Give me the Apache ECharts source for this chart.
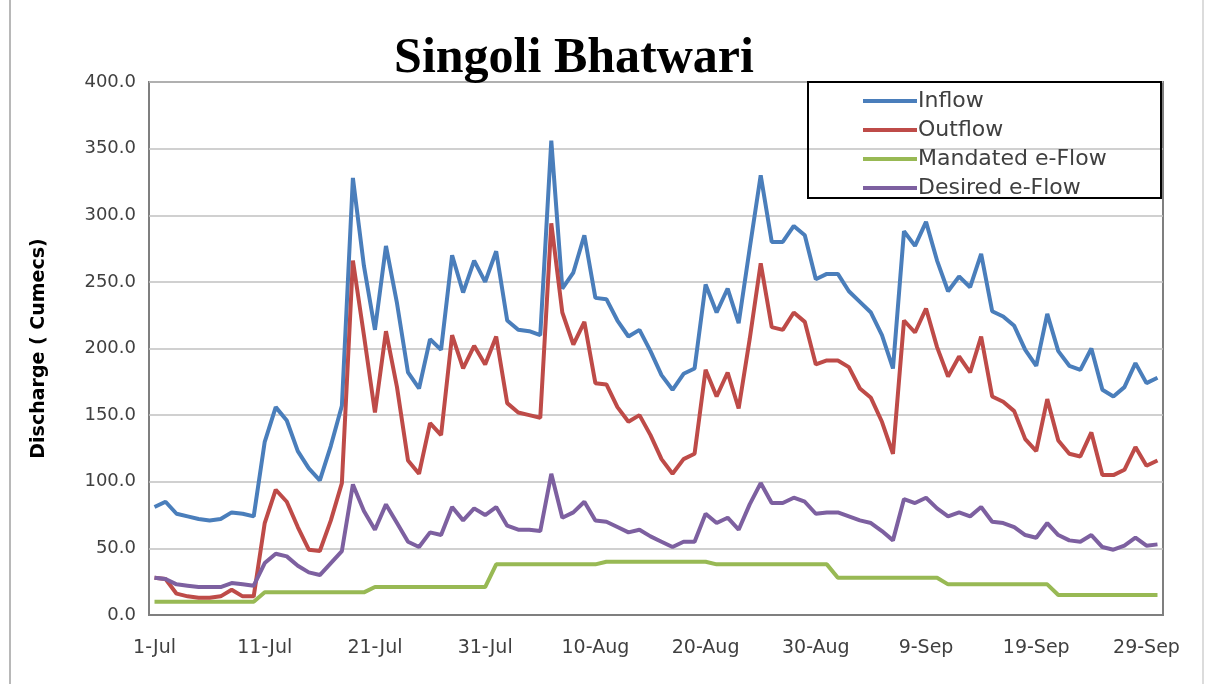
<!DOCTYPE html>
<html>
<head>
<meta charset="utf-8">
<script src="https://cdn.jsdelivr.net/npm/echarts/dist/echarts.min.js"></script>
<style>
  html, body { margin: 0; padding: 0; background: #fff; }
  #chart { width: 1213px; height: 684px; }
</style>
</head>
<body>
<div id="chart"></div>
<script>
// daily series, 1-Jul .. 30-Sep (92 days)
var months = [['Jul', 31], ['Aug', 31], ['Sep', 30]];
var days = [];
months.forEach(function (m) {
  for (var d = 1; d <= m[1]; d++) days.push(d + '-' + m[0]);
});

var inflow = [
  81, 85, 76, 74, 72, 71, 72, 77, 76, 74,
  130, 156, 146, 123, 110, 101, 127, 157, 328, 262,
  214, 277, 234, 182, 170, 207, 199, 270, 242, 266,
  250, 273, 221, 214, 213, 210, 356, 245, 257, 285,
  238, 237, 221, 209, 214, 198, 180, 169, 181, 185,
  248, 227, 245, 219, 275, 330, 280, 280, 292, 285,
  252, 256, 256, 243, 235, 227, 210, 185, 288, 277,
  295, 266, 243, 254, 246, 271, 228, 224, 217, 199,
  187, 226, 198, 187, 184, 200, 169, 164, 171, 189,
  174, 178
];
var outflow = [
  28, 27, 16, 14, 13, 13, 14, 19, 14, 14,
  69, 94, 85, 66, 49, 48, 71, 99, 266, 210,
  152, 213, 171, 116, 106, 144, 135, 210, 185, 202,
  188, 209, 159, 152, 150, 148, 294, 227, 203, 220,
  174, 173, 156, 145, 150, 135, 117, 106, 117, 121,
  184, 164, 182, 155, 207, 264, 216, 214, 227, 220,
  188, 191, 191, 186, 170, 163, 145, 121, 221, 212,
  230, 201, 179, 194, 182, 209, 164, 160, 153, 132,
  123, 162, 131, 121, 119, 137, 105, 105, 109, 126,
  112, 116
];
var mandated = [
  10, 10, 10, 10, 10, 10, 10, 10, 10, 10,
  17, 17, 17, 17, 17, 17, 17, 17, 17, 17,
  21, 21, 21, 21, 21, 21, 21, 21, 21, 21,
  21, 38, 38, 38, 38, 38, 38, 38, 38, 38,
  38, 40, 40, 40, 40, 40, 40, 40, 40, 40,
  40, 38, 38, 38, 38, 38, 38, 38, 38, 38,
  38, 38, 28, 28, 28, 28, 28, 28, 28, 28,
  28, 28, 23, 23, 23, 23, 23, 23, 23, 23,
  23, 23, 15, 15, 15, 15, 15, 15, 15, 15,
  15, 15
];
var desired = [
  28, 27, 23, 22, 21, 21, 21, 24, 23, 22,
  39, 46, 44, 37, 32, 30, 39, 48, 98, 78,
  64, 83, 69, 55, 51, 62, 60, 81, 71, 80,
  75, 81, 67, 64, 64, 63, 106, 73, 77, 85,
  71, 70, 66, 62, 64, 59, 55, 51, 55, 55,
  76, 69, 73, 64, 83, 99, 84, 84, 88, 85,
  76, 77, 77, 74, 71, 69, 63, 56, 87, 84,
  88, 80, 74, 77, 74, 81, 70, 69, 66, 60,
  58, 69, 60, 56, 55, 60, 51, 49, 52, 58,
  52, 53
];

var seriesNames = ['Inflow', 'Outflow', 'Mandated e-Flow', 'Desired e-Flow'];
var seriesColors = ['#4a7ebb', '#be4b48', '#98b954', '#7d60a0'];
var seriesData = [inflow, outflow, mandated, desired];

var chart = echarts.init(document.getElementById('chart'));
var labelFont = 'DejaVu Sans';

var option = {
  animation: false,
  backgroundColor: '#fff',
  title: {
    text: 'Singoli Bhatwari',
    left: 569,
    textAlign: 'center',
    top: 29,
    textStyle: {
      fontFamily: 'Liberation Serif',
      fontWeight: 'bold',
      fontSize: 50,
      color: '#000'
    }
  },
  legend: {
    data: seriesNames,
    orient: 'vertical',
    left: 858,
    top: 85,
    icon: 'rect',
    itemWidth: 54,
    itemHeight: 4,
    itemGap: 7,
    textStyle: { fontFamily: labelFont, fontSize: 22, color: '#404040', padding: [0, 0, 0, -4] }
  },
  grid: {
    left: 149, top: 82, width: 1014, height: 533,
    show: true, borderColor: '#7f7f7f', borderWidth: 2
  },
  xAxis: {
    type: 'category',
    data: days,
    boundaryGap: true,
    axisLine: { lineStyle: { color: '#7f7f7f', width: 2 } },
    axisTick: { show: false },
    axisLabel: {
      interval: 9,
      margin: 24,
      fontFamily: labelFont,
      fontSize: 19,
      color: '#404040'
    }
  },
  yAxis: {
    type: 'value',
    min: 0, max: 400, interval: 50,
    name: 'Discharge ( Cumecs)',
    nameLocation: 'middle',
    nameGap: 100,
    nameTextStyle: { fontFamily: labelFont, fontWeight: 'bold', fontSize: 19, color: '#000' },
    axisLine: { show: false },
    axisTick: { show: false },
    splitLine: { lineStyle: { color: '#c0c0c0', width: 1.5 } },
    axisLabel: {
      margin: 13,
      fontFamily: labelFont,
      fontSize: 18,
      color: '#404040',
      formatter: function (v) { return v.toFixed(1); }
    }
  },
  graphic: [
    { type: 'rect', shape: { x: 808, y: 82, width: 353, height: 116 },
      style: { fill: 'none', stroke: '#000', lineWidth: 2 }, z: 10 },
    { type: 'line', shape: { x1: 10, y1: 0, x2: 10, y2: 684 },
      style: { stroke: '#a0a0a0', lineWidth: 1.5 } },
    { type: 'line', shape: { x1: 1203, y1: 0, x2: 1203, y2: 684 },
      style: { stroke: '#d0d0d0', lineWidth: 1.5 } }
  ],
  series: seriesNames.map(function (name, i) {
    return {
      name: name,
      type: 'line',
      data: seriesData[i],
      showSymbol: false,
      lineStyle: { color: seriesColors[i], width: 4 },
      itemStyle: { color: seriesColors[i] },
      z: i === 2 ? 1 : 2
    };
  })
};

chart.setOption(option);
</script>
</body>
</html>
